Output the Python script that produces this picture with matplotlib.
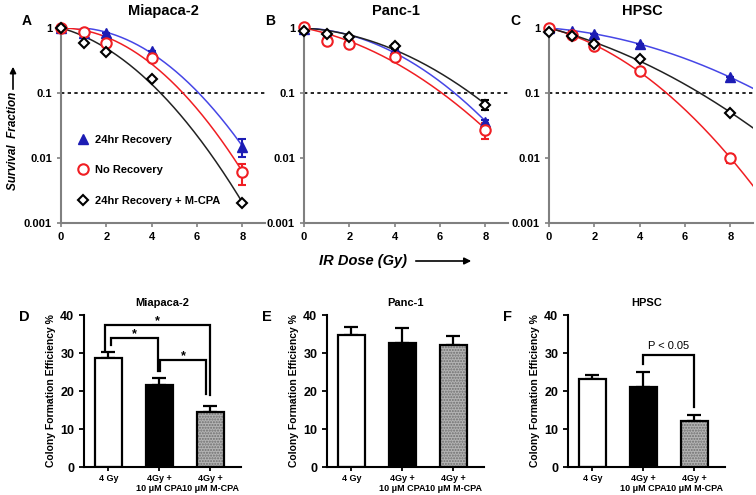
import numpy as np
import matplotlib
matplotlib.use("Agg")
import matplotlib.pyplot as plt

plt.rcParams["font.family"] = ["Liberation Sans", "DejaVu Sans"]
plt.rcParams["font.weight"] = "bold"

# ---- survival data (dose in Gy) ----
dose = [0, 1, 2, 4, 8]
series_names = ["24hr Recovery", "No Recovery", "24hr Recovery + M-CPA"]

mia_rec = [1.0, 0.85, 0.83, 0.45, 0.015]
mia_norec = [1.0, 0.86, 0.58, 0.34, 0.006]
mia_mcpa = [1.0, 0.59, 0.43, 0.166, 0.002]
mia_rec_err = [0, 0, 0, 0, 0.0045]
mia_norec_err = [0, 0, 0, 0, 0.0022]
mia_mcpa_err = [0, 0, 0, 0, 0]

panc_rec = [0.95, 0.8, 0.7, 0.48, 0.036]
panc_norec = [1.05, 0.63, 0.56, 0.36, 0.027]
panc_mcpa = [0.9, 0.8, 0.72, 0.52, 0.066]
panc_rec_err = [0, 0, 0, 0, 0.003]
panc_norec_err = [0, 0, 0, 0, 0.0075]
panc_mcpa_err = [0, 0.05, 0, 0.05, 0.012]

hpsc_rec = [1.0, 0.91, 0.81, 0.57, 0.174]
hpsc_norec = [1.0, 0.78, 0.52, 0.22, 0.010]
hpsc_mcpa = [0.86, 0.76, 0.57, 0.33, 0.050]
hpsc_rec_err = [0, 0, 0, 0, 0]
hpsc_norec_err = [0, 0, 0, 0, 0.0017]
hpsc_mcpa_err = [0, 0, 0, 0, 0]

# ---- colony formation data ----
groups = ["4 Gy", "4Gy +\n10 \u03bcM CPA", "4Gy +\n10 \u03bcM M-CPA"]
cfe_mia = [28.6, 21.5, 14.5]
cfe_mia_err = [1.6, 1.8, 1.6]
cfe_panc = [34.8, 32.6, 32.1]
cfe_panc_err = [2.0, 4.1, 2.4]
cfe_hpsc = [23.1, 21.0, 12.1]
cfe_hpsc_err = [1.1, 4.0, 1.7]

W, H = 756, 495
fig = plt.figure(figsize=(W / 100, H / 100), dpi=100)


def px_axes(x0, y_top, x1, y_bot):
    return fig.add_axes([x0 / W, 1 - y_bot / H, (x1 - x0) / W, (y_bot - y_top) / H])


blue_m, blue_l = "#1c1cb4", "#4646e6"
red = "#f01e23"

styles = [
    dict(marker="^", mfc=blue_m, mec=blue_m, ms=7, color=blue_l),
    dict(marker="o", mfc="white", mec=red, ms=7.5, mew=1.5, color=red),
    dict(marker="D", mfc="white", mec="black", ms=5, mew=1.5, color="#222222"),
]


def lq_fit(d, s):
    d = np.asarray(d, float)
    y = -np.log(np.asarray(s, float))
    A = np.column_stack([d, d ** 2])
    coef = np.linalg.lstsq(A, y, rcond=None)[0]
    return coef


def survival_panel(ax, data, errs, title, tx, letter, curve_end):
    ax.set_yscale("log")
    ax.set_ylim(0.001, 1)
    ax.set_xlim(0, 9)
    ax.axhline(0.1, color="black", lw=1.2, ls=(0, (2, 2)))
    for vals, err, st, name in zip(data, errs, styles, series_names):
        a, b = lq_fit(dose, vals)
        dd = np.linspace(0, curve_end, 200)
        ax.plot(dd, np.exp(-(a * dd + b * dd ** 2)), color=st["color"], lw=1.1)
        ax.errorbar(dose, vals, yerr=err, fmt="none", ecolor=st["mec"],
                    elinewidth=1.5, capsize=3, capthick=1.5, clip_on=False)
        ax.plot(dose, vals, ls="none", marker=st["marker"], mfc=st["mfc"],
                mec=st["mec"], ms=st["ms"], mew=st.get("mew", 1), clip_on=False,
                label=name, zorder=5)
    for side in ["top", "right"]:
        ax.spines[side].set_visible(False)
    for side in ["left", "bottom"]:
        ax.spines[side].set_color("#808080")
        ax.spines[side].set_linewidth(1.5)
    ax.set_xticks([0, 2, 4, 6, 8])
    ax.set_yticks([0.001, 0.01, 0.1, 1])
    ax.set_yticklabels(["0.001", "0.01", "0.1", "1"])
    ax.minorticks_off()
    ax.tick_params(colors="#808080", labelcolor="black", labelsize=8, length=3, width=1.2)
    ax.text(tx, 1.087, title, transform=ax.transAxes, ha="center", va="center",
            fontsize=10.5, fontweight="bold")
    ax.text(-34 / 204, 1.035, letter, transform=ax.transAxes, ha="center", va="center",
            fontsize=10, fontweight="bold")


axA = px_axes(61, 28, 265, 223)
axB = px_axes(304, 28, 508, 223)
axC = px_axes(549, 28, 753, 223)

survival_panel(axA, [mia_rec, mia_norec, mia_mcpa],
               [mia_rec_err, mia_norec_err, mia_mcpa_err], "Miapaca-2", 0.5, "A", 8)
survival_panel(axB, [panc_rec, panc_norec, panc_mcpa],
               [panc_rec_err, panc_norec_err, panc_mcpa_err], "Panc-1", 0.45, "B", 8)
survival_panel(axC, [hpsc_rec, hpsc_norec, hpsc_mcpa],
               [hpsc_rec_err, hpsc_norec_err, hpsc_mcpa_err], "HPSC", 0.456, "C", 9)

axA.legend(loc="upper left", bbox_to_anchor=(0.06, 0.475), frameon=False,
           handlelength=1.0, handletextpad=0.6, labelspacing=1.85,
           prop=dict(size=8, weight="bold"), borderaxespad=0)

# shared axis labels with arrows
fig.text(13 / W, 1 - 190 / H, "Survival  Fraction", rotation=90, ha="center", va="bottom",
         fontsize=8.5, fontweight="bold", fontstyle="italic")
fig.add_artist(matplotlib.patches.FancyArrowPatch(
    (13 / W, 1 - 92 / H), (13 / W, 1 - 64 / H), transform=fig.transFigure,
    arrowstyle="-|>", mutation_scale=9, color="black", lw=1.2))
fig.text(319 / W, 1 - 261 / H, "IR Dose (Gy)", ha="left", va="center",
         fontsize=10.5, fontweight="bold", fontstyle="italic")
fig.add_artist(matplotlib.patches.FancyArrowPatch(
    (413 / W, 1 - 261 / H), (474 / W, 1 - 261 / H), transform=fig.transFigure,
    arrowstyle="-|>", mutation_scale=10, color="black", lw=1.2))

# ---- bar panels ----
xpos = np.arange(len(groups))


def bar_panel(ax, vals, errs, title, letter):
    ax.set_xlim(-0.48, 2.6)
    ax.set_ylim(0, 40)
    ax.bar(xpos[0], vals[0], 0.52, color="white", edgecolor="black", lw=1.6, zorder=2)
    ax.bar(xpos[1], vals[1], 0.52, color="black", edgecolor="black", lw=1.6, zorder=2)
    ax.bar(xpos[2], vals[2], 0.52, color="#b4b4b4", edgecolor="#6e6e6e", lw=0,
           hatch="......", zorder=2)
    ax.bar(xpos[2], vals[2], 0.52, color="none", edgecolor="black", lw=1.6, zorder=3)
    ax.errorbar(xpos, vals, yerr=[np.zeros(3), errs], fmt="none", ecolor="black",
                elinewidth=1.6, capsize=5, capthick=1.6, zorder=1)
    for side in ["top", "right"]:
        ax.spines[side].set_visible(False)
    for side in ["left", "bottom"]:
        ax.spines[side].set_linewidth(1.5)
    ax.set_xticks(xpos)
    ax.set_xticklabels(groups, fontsize=6.5, fontweight="bold")
    ax.set_yticks([0, 10, 20, 30, 40])
    ax.tick_params(axis="y", labelsize=9, length=3.5, width=1.3)
    ax.tick_params(axis="x", length=3, width=1.3, pad=2)
    ax.set_ylabel("Colony Formation Efficiency %", fontsize=7.5, fontweight="bold")
    ax.yaxis.set_label_coords(-27 / 154, 0.5)
    ax.text(0.5, 1.08, title, transform=ax.transAxes, ha="center", va="center",
            fontsize=8, fontweight="bold")
    ax.text(-59 / 154, 0.99, letter, transform=ax.transAxes, ha="center", va="center",
            fontsize=10.5, fontweight="bold")


def bracket(ax, x0, x1, top, y0, y1, label, size=9, dy=0.8):
    ax.plot([x0, x0, x1, x1], [y0, top, top, y1], color="black", lw=1.6,
            solid_joinstyle="miter", clip_on=False)
    ax.text((x0 + x1) / 2, top + dy, label, ha="center", va="bottom", fontsize=size,
            fontweight="bold", clip_on=False)


axD = px_axes(84, 315, 241, 467)
axE = px_axes(327, 315, 484, 467)
axF = px_axes(568, 315, 725, 467)

bar_panel(axD, cfe_mia, cfe_mia_err, "Miapaca-2", "D")
bar_panel(axE, cfe_panc, cfe_panc_err, "Panc-1", "E")
bar_panel(axF, cfe_hpsc, cfe_hpsc_err, "HPSC", "F")

bracket(axD, 0.05, 0.97, 34.0, 32.1, 25.2, "*", dy=-0.6)
bracket(axD, -0.07, 2.0, 37.5, 30.8, 18.9, "*", dy=-0.6)
bracket(axD, 1.02, 1.92, 28.1, 25.2, 19.2, "*", dy=-0.6)
bracket(axF, 1.0, 2.0, 29.6, 27.1, 15.9, "P < 0.05", size=8, dy=0.9)
axF.texts[-1].set_fontweight("normal")

fig.savefig("out.png", dpi=100)
